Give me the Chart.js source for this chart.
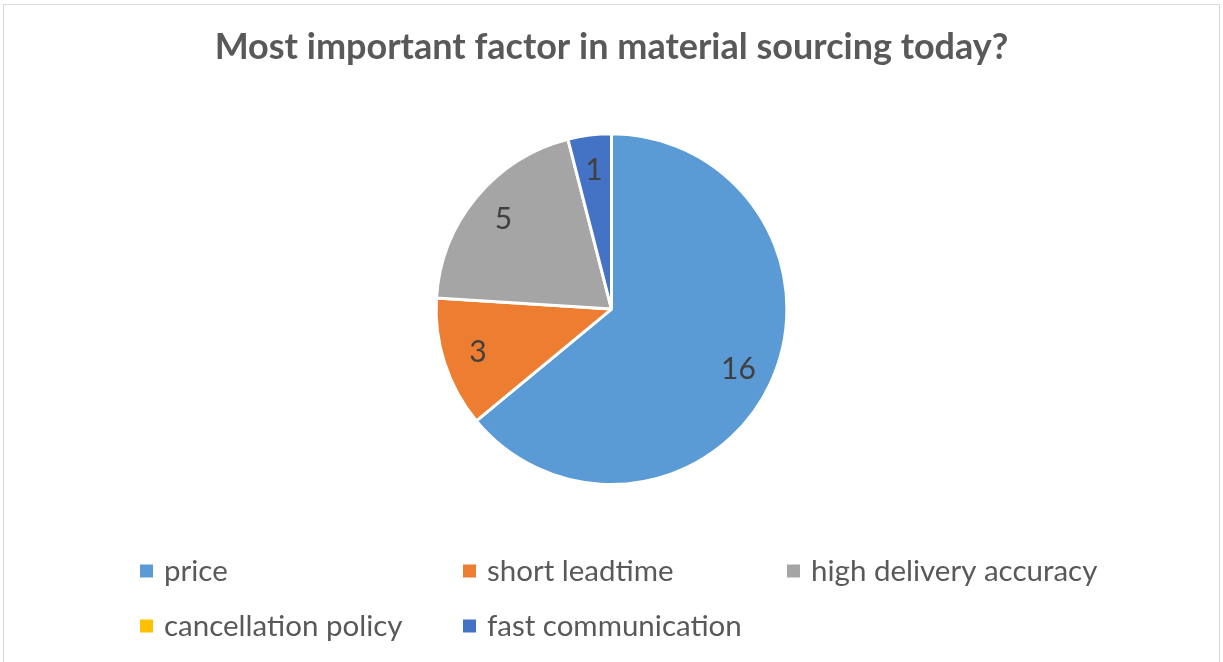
<!DOCTYPE html>
<html lang="en">
<head>
    <meta charset="UTF-8">
    <title>Most important factor in material sourcing today?</title>
    <script src="https://cdn.jsdelivr.net/npm/chart.js"></script>
    <style>
        html, body {
            margin: 0;
            padding: 0;
            background: #fff;
        }
        .frame {
            position: absolute;
            left: 3px;
            top: 4px;
            width: 1217px;
            height: 670px;
            border: 1px solid #d9d9d9;
            box-sizing: border-box;
        }
        .wrap {
            position: absolute;
            left: 0;
            top: 0;
            width: 1223px;
            height: 662px;
        }
    </style>
</head>
<body>
    <div class="frame"></div>
    <div class="wrap"><canvas id="pieChart" width="1223" height="662"></canvas></div>

    <script>
        const chartTitle = 'Most important factor in material sourcing today?';
        const factors = ['price', 'short leadtime', 'high delivery accuracy', 'cancellation policy', 'fast communication'];
        const answers = [16, 3, 5, 0, 1];
        const sliceColors = ['#5B9BD5', '#ED7D31', '#A5A5A5', '#FFC000', '#4472C4'];

        const FONT = 'Lato, "Open Sans", sans-serif';

        // value labels inside the slices (zero values are skipped)
        const sliceLabels = {
            id: 'sliceLabels',
            afterDatasetsDraw(chart) {
                const ctx = chart.ctx;
                const meta = chart.getDatasetMeta(0);
                ctx.save();
                ctx.font = '30px ' + FONT;
                ctx.fillStyle = '#404040';
                ctx.textAlign = 'center';
                ctx.textBaseline = 'middle';
                meta.data.forEach((arc, i) => {
                    const v = chart.data.datasets[0].data[i];
                    if (!v) return;
                    const mid = (arc.startAngle + arc.endAngle) / 2;
                    const r = arc.outerRadius * 0.8;
                    ctx.fillText(String(v), arc.x + Math.cos(mid) * r, arc.y + Math.sin(mid) * r);
                });
                ctx.restore();
            }
        };

        // legend laid out on a fixed grid, three columns
        const gridLegend = {
            id: 'gridLegend',
            afterDraw(chart) {
                const ctx = chart.ctx;
                const colX = [140, 463, 787];
                const rowY = [571, 626];
                const colors = chart.data.datasets[0].backgroundColor;
                ctx.save();
                ctx.font = '29.5px ' + FONT;
                ctx.textBaseline = 'middle';
                chart.data.labels.forEach((label, i) => {
                    const x = colX[i % 3];
                    const y = rowY[Math.floor(i / 3)];
                    ctx.fillStyle = colors[i];
                    ctx.fillRect(x, y - 6.5, 13, 13);
                    ctx.fillStyle = '#595959';
                    ctx.fillText(label, x + 24, y);
                });
                ctx.restore();
            }
        };

        new Chart(document.getElementById('pieChart'), {
            type: 'pie',
            data: {
                labels: factors,
                datasets: [{
                    data: answers,
                    backgroundColor: sliceColors,
                    borderColor: '#ffffff',
                    borderWidth: 3
                }]
            },
            options: {
                responsive: false,
                animation: false,
                layout: {
                    padding: { top: 0, bottom: 176, left: 0, right: 0 }
                },
                plugins: {
                    legend: { display: false },
                    tooltip: { enabled: false },
                    title: {
                        display: true,
                        text: chartTitle,
                        color: '#595959',
                        font: { family: FONT, size: 36, weight: 'bold', lineHeight: 1.2 },
                        padding: { top: 26, bottom: 63 }
                    }
                }
            },
            plugins: [sliceLabels, gridLegend]
        });
    </script>
</body>
</html>
